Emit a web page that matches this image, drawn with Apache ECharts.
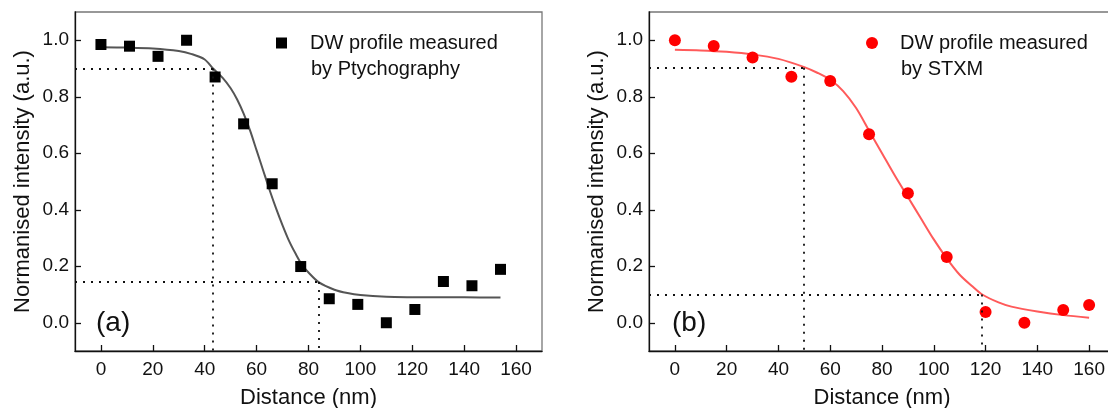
<!DOCTYPE html>
<html>
<head>
<meta charset="utf-8">
<script src="https://cdn.jsdelivr.net/npm/echarts@6/dist/echarts.min.js"></script>
<style>
html,body{margin:0;padding:0;background:#fff;}
#c{width:1108px;height:408px;}
</style>
</head>
<body>
<div id="c"></div>
<script>
// ---- data ----
const distA = [0, 11, 22, 33, 44, 55, 66, 77, 88, 99, 110, 121, 132, 143, 154];
const intensityA = [0.985, 0.979, 0.943, 1.0, 0.870, 0.704, 0.492, 0.199, 0.085, 0.065, 0.0, 0.047, 0.146, 0.131, 0.189];
const fitDistA = [0, 10, 20, 30, 35, 40, 43.2, 47, 50, 52.5, 55, 57.5, 60, 62.5, 65, 67.5, 70, 72.5, 75, 77.5, 80, 83.9, 90, 95, 100, 110, 120, 130, 140, 154];
const fitA = [0.975, 0.974, 0.971, 0.962, 0.951, 0.932, 0.9, 0.866, 0.83, 0.79, 0.74, 0.68, 0.61, 0.54, 0.47, 0.405, 0.345, 0.29, 0.245, 0.205, 0.178, 0.144, 0.117, 0.105, 0.098, 0.092, 0.0905, 0.09, 0.09, 0.089];
const guideXA = [43.2, 83.9];
const guideYA = [0.9, 0.144];

const distB = [0, 15, 30, 45, 60, 75, 90, 105, 120, 135, 150, 160];
const intensityB = [1.0, 0.980, 0.939, 0.871, 0.856, 0.667, 0.458, 0.233, 0.038, 0.0, 0.045, 0.0625];
const fitDistB = [0, 10, 20, 30, 40, 50, 55, 60, 65, 70, 75, 80, 85, 90, 95, 100, 105, 110, 115, 118.7, 125, 130, 140, 150, 160];
const fitB = [0.966, 0.964, 0.959, 0.95, 0.934, 0.905, 0.885, 0.86, 0.82, 0.76, 0.68, 0.6, 0.52, 0.445, 0.37, 0.295, 0.228, 0.17, 0.128, 0.1, 0.072, 0.057, 0.04, 0.027, 0.018];
const guideXB = [49.9, 118.7];
const guideYB = [0.903, 0.1];

const xTicks = [0, 20, 40, 60, 80, 100, 120, 140, 160];
const yTicks = [0, 0.2, 0.4, 0.6, 0.8, 1.0];
const xRange = [-10, 170];
const yRange = [-0.1, 1.1];

const legendA = ['DW profile measured', 'by Ptychography'];
const legendB = ['DW profile measured', 'by STXM'];
const panelLabels = ['(a)', '(b)'];
const xTitle = 'Distance (nm)';
const yTitle = 'Normanised intensity (a.u.)';

// ---- chart ----
const FONT = 'Liberation Sans, Arial, sans-serif';
const pairs = (xs, ys) => xs.map((x, i) => [x, ys[i]]);
const nameA = legendA.join('\n');
const nameB = legendB.join('\n');

function guides(gx, gy) {
  return [
    [{coord: [xRange[0], gy[0]]}, {coord: [gx[0], gy[0]]}],
    [{coord: [gx[0], gy[0]]}, {coord: [gx[0], yRange[0]]}],
    [{coord: [xRange[0], gy[1]]}, {coord: [gx[1], gy[1]]}],
    [{coord: [gx[1], gy[1]]}, {coord: [gx[1], yRange[0]]}]
  ];
}

function xAxisCfg(gi) {
  return {
    gridIndex: gi, type: 'value', min: xRange[0], max: xRange[1],
    axisLine: {show: true, onZero: false, lineStyle: {color: '#111', width: 1.3}},
    axisTick: {show: true, inside: true, length: 6, customValues: xTicks, lineStyle: {color: '#111', width: 1.3}},
    axisLabel: {customValues: xTicks, color: '#111', fontSize: 19, fontFamily: FONT, margin: 9},
    splitLine: {show: false},
    name: xTitle, nameLocation: 'middle', nameGap: 36,
    nameTextStyle: {fontSize: 22, color: '#111', fontFamily: FONT}
  };
}
function yAxisCfg(gi) {
  return {
    gridIndex: gi, type: 'value', min: yRange[0], max: yRange[1],
    axisLine: {show: true, onZero: false, lineStyle: {color: '#111', width: 1.3}},
    axisTick: {show: true, inside: true, length: 6, customValues: yTicks, lineStyle: {color: '#111', width: 1.3}},
    axisLabel: {customValues: yTicks, color: '#111', fontSize: 19, fontFamily: FONT, margin: 6,
      formatter: v => v.toFixed(1)},
    splitLine: {show: false},
    name: yTitle, nameLocation: 'middle', nameGap: 41, nameRotate: 90,
    nameTextStyle: {fontSize: 22, color: '#111', fontFamily: FONT}
  };
}
const markStyle = {type: [2, 6], color: '#111', width: 1.8};
const legText = {fontSize: 20, fontFamily: FONT, color: '#111', lineHeight: 26};

const chart = echarts.init(document.getElementById('c'), null, {renderer: 'canvas'});
chart.setOption({
  animation: false,
  backgroundColor: '#fff',
  grid: [
    {left: 75, top: 12, width: 467, height: 339, show: true, borderColor: '#777', borderWidth: 1.3, outerBoundsMode: 'none', containLabel: false},
    {left: 649, top: 12, width: 466, height: 339, show: true, borderColor: '#777', borderWidth: 1.3, outerBoundsMode: 'none', containLabel: false}
  ],
  xAxis: [xAxisCfg(0), xAxisCfg(1)],
  yAxis: [yAxisCfg(0), yAxisCfg(1)],
  legend: [
    {data: [nameA], left: 276, top: 30, padding: 0, itemWidth: 11, itemHeight: 11, itemGap: 0,
     formatter: n => n.split('\n')[0],
     textStyle: Object.assign({padding: [0, 0, 0, 18]}, legText)},
    {data: [nameB], left: 866, top: 30, padding: 0, itemWidth: 12, itemHeight: 12, itemGap: 0,
     formatter: n => n.split('\n')[0],
     textStyle: Object.assign({padding: [0, 0, 0, 17]}, legText)}
  ],
  graphic: [
    {type: 'text', left: 311, top: 59, style: {text: legendA[1], font: '20px Liberation Sans', fill: '#111'}},
    {type: 'text', left: 901, top: 59, style: {text: legendB[1], font: '20px Liberation Sans', fill: '#111'}},
    {type: 'text', left: 96, top: 309, style: {text: panelLabels[0], font: '28px Liberation Sans', fill: '#111'}},
    {type: 'text', left: 672, top: 309, style: {text: panelLabels[1], font: '28px Liberation Sans', fill: '#111'}}
  ],
  series: [
    {type: 'line', xAxisIndex: 0, yAxisIndex: 0, data: pairs(fitDistA, fitA), smooth: 0.3,
     showSymbol: false, lineStyle: {color: '#555', width: 2}, z: 2, silent: true},
    {name: nameA, type: 'scatter', xAxisIndex: 0, yAxisIndex: 0, data: pairs(distA, intensityA),
     symbol: 'rect', symbolSize: 11, itemStyle: {color: '#000', opacity: 1}, z: 3,
     markLine: {silent: true, symbol: 'none', label: {show: false}, lineStyle: markStyle, data: guides(guideXA, guideYA)}},
    {type: 'line', xAxisIndex: 1, yAxisIndex: 1, data: pairs(fitDistB, fitB), smooth: 0.3,
     showSymbol: false, lineStyle: {color: '#ff5a5a', width: 2}, z: 2, silent: true},
    {name: nameB, type: 'scatter', xAxisIndex: 1, yAxisIndex: 1, data: pairs(distB, intensityB),
     symbol: 'circle', symbolSize: 12, itemStyle: {color: '#ff0000', opacity: 1}, z: 3,
     markLine: {silent: true, symbol: 'none', label: {show: false}, lineStyle: markStyle, data: guides(guideXB, guideYB)}}
  ]
});
</script>
</body>
</html>
